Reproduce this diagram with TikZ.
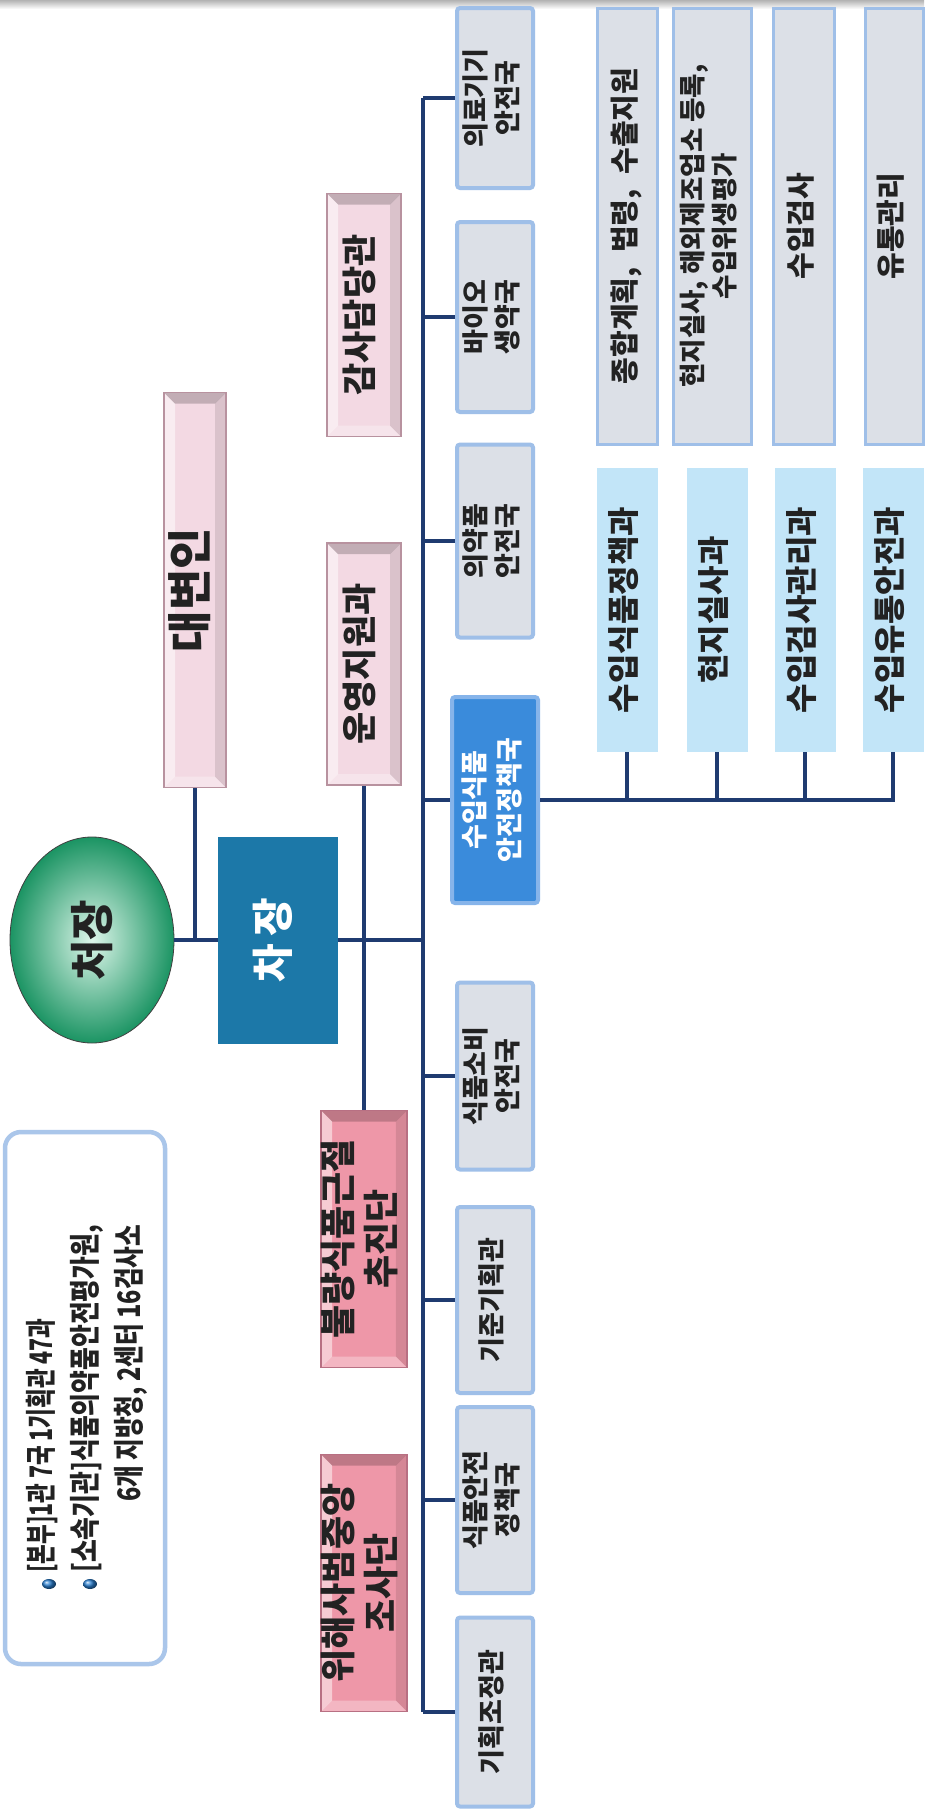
\documentclass[tikz,border=0pt]{standalone}
\usepackage{fontspec}
\usepackage{graphicx}
\setmainfont{Noto Sans CJK KR}
\usetikzlibrary{shapes.geometric}
\definecolor{lnnavy}{HTML}{1F3B70}
\definecolor{chiefgreen}{HTML}{1B9463}
\definecolor{chiefmint}{HTML}{DDF6EA}
\definecolor{deputyblue}{HTML}{1C78A8}
\definecolor{pinkfill}{HTML}{F3D9E3}
\definecolor{pinkedge}{HTML}{B8929F}
\definecolor{rosefill}{HTML}{EE97A8}
\definecolor{roseedge}{HTML}{B87083}
\definecolor{grayfill}{HTML}{DCE0E7}
\definecolor{glowblue}{HTML}{9FBFE8}
\definecolor{qblue}{HTML}{3A8BDB}
\definecolor{qglow}{HTML}{86B4EA}
\definecolor{skyfill}{HTML}{C2E5F8}
\definecolor{notebord}{HTML}{AAC6EA}
\definecolor{bulletblue}{HTML}{2A7FD0}
\definecolor{txtdark}{HTML}{222222}

% vertical (rotated) text block
\newcommand{\vtext}[1]{\rotatebox{90}{\begin{tabular}{@{}c@{}}#1\end{tabular}}}
\newcommand{\fs}[2]{\fontsize{#1}{#2}\selectfont\bfseries}

\begin{document}
\begin{tikzpicture}[x=1pt,y=-1pt,
    conn/.style={lnnavy,line width=3.5pt},
    bevel/.style={path picture={
        \coordinate (bvA) at (path picture bounding box.south west);
        \coordinate (bvB) at (path picture bounding box.north east);
        \fill[white,opacity=0.5] (bvA) -- (bvA |- bvB) -- ([shift={(11pt,-11pt)}]bvA |- bvB)
              -- ([shift={(11pt,11pt)}]bvA) -- cycle;
        \fill[white,opacity=0.3] (bvA) -- (bvA -| bvB) -- ([shift={(-11pt,11pt)}]bvA -| bvB)
              -- ([shift={(11pt,11pt)}]bvA) -- cycle;
        \fill[black,opacity=0.1] (bvB) -- (bvB |- bvA) -- ([shift={(-11pt,11pt)}]bvB |- bvA)
              -- ([shift={(-11pt,-11pt)}]bvB) -- cycle;
        \fill[black,opacity=0.2] (bvB) -- (bvA |- bvB) -- ([shift={(11pt,-11pt)}]bvA |- bvB)
              -- ([shift={(-11pt,-11pt)}]bvB) -- cycle;}},
    chiefnode/.style={ellipse,inner sep=0pt,minimum width=164pt,minimum height=206pt,
        inner color=chiefmint,outer color=chiefgreen,draw=black!75,line width=0.8pt,
        text=txtdark,font=\fs{44}{48}},
    deputynode/.style={rectangle,inner sep=0pt,fill=deputyblue,text=white,
        minimum width=120pt,minimum height=207pt,font=\fs{42}{48}},
    pinkbox/.style={rectangle,inner sep=0pt,fill=pinkfill,draw=pinkedge,line width=1.5pt,
        bevel,minimum width=74pt,text=txtdark,font=\fs{35}{40}},
    redbox/.style={rectangle,inner sep=0pt,fill=rosefill,draw=roseedge,line width=1.5pt,
        bevel,minimum width=74pt,minimum height=257pt,text=txtdark,font=\fs{36}{42}},
    graybox/.style={rectangle,inner sep=0pt,fill=grayfill,draw=glowblue,line width=4pt,
        rounded corners=3pt,minimum width=76pt,text=txtdark,font=\fs{27}{31}},
    bluebox/.style={rectangle,inner sep=0pt,fill=qblue,draw=qglow,line width=4pt,
        rounded corners=3pt,text=white,font=\fs{27}{35}},
    skybox/.style={rectangle,inner sep=0pt,fill=skyfill,minimum width=61pt,
        minimum height=284pt,text=txtdark,font=\fs{32}{36}},
    dutybox/.style={rectangle,inner sep=0pt,fill=grayfill,draw=glowblue,line width=3pt,
        minimum height=436pt,text=txtdark,font=\fs{29}{32}},
    notebox/.style={rectangle,rounded corners=16pt,fill=white,draw=notebord,line width=4.5pt,
        minimum width=160pt,minimum height=532pt},
  ]

  \useasboundingbox (0,0) rectangle (924,1820);
  \fill[white] (0,0) rectangle (924,1820);
  \shade[top color=black!30,bottom color=white] (0,0) rectangle (924,9);

  \def\bx{423}   % main bus x
  \def\gx{495}   % bureau column x

  % ---- legend ----
  \node[notebox] (note) at (85,1398) {};
  \node[anchor=south,inner sep=0pt,text=txtdark] (notetext) at (88,1573)
        {\rotatebox{90}{\fs{31}{44}\begin{tabular}{@{}l@{}}
          \scalebox{0.69}[1]{[본부]1관 7국 1기획관 47과}\\
          \scalebox{0.80}[1]{[소속기관]식품의약품안전평가원,}\\
          \multicolumn{1}{@{}r@{}}{\scalebox{0.76}[1]{6개 지방청, 2센터 16검사소}}
        \end{tabular}}};
  \foreach \x in {49,90}
    \shade[ball color=bulletblue] (\x,1584) ellipse (7 and 5);

  % ---- head ----
  \node[chiefnode] (chief) at (92,940) {\rotatebox{90}{처장}};
  \node[deputynode] (deputy) at (278,940) {\vtext{차\,장}};
  \node[pinkbox,minimum width=62pt,minimum height=395pt,font=\fs{45}{48}] (spk)
        at (195,590) {\vtext{대변인}};
  \draw[conn] (chief) -- (deputy);
  \draw[conn] (spk.south) -- (spk.south |- chief.east);

  % ---- staff offices ----
  \node[pinkbox,minimum height=243pt] (audit) at (364,315) {\vtext{감사담당관}};
  \node[pinkbox,minimum height=242pt] (ops) at (364,664) {\vtext{운영지원과}};
  \node[redbox] (fraud) at (364,1239) {\vtext{불량식품근절\\추진단}};
  \node[redbox] (crime) at (364,1583) {\vtext{위해사범중앙\\조사단}};
  \draw[conn] (ops) -- (fraud);

  % ---- bureaus on the main bus ----
  \coordinate (bus) at (\bx,940);
  \draw[conn] (deputy.east) -- (bus);
  \foreach \n/\y/\h/\t in {med/98/180/{의료기기\\안전국}, bio/317/190/{바이오\\생약국},
      drug/541/193/{의약품\\안전국}, cons/1076/187/{식품소비\\안전국},
      std/1300/186/{기준기획관}, fpol/1500/186/{식품안전\\정책국},
      plan/1712/189/{기획조정관}} {
    \node[graybox,minimum height=\h] (\n) at (\gx,\y) {\vtext{\t}};
    \draw[conn] (\n.west) -- (\n.west -| bus);
  }
  \node[bluebox,minimum width=86pt,minimum height=206pt] (qfood) at (\gx,800)
        {\vtext{수입식품\\안전정책국}};
  \draw[conn] (qfood.west) -- (qfood.west -| bus);
  \draw[conn] (med.west -| bus) -- (plan.west -| bus);

  % ---- import food divisions ----
  \foreach \n/\x/\t in {qpol/627/수입식품정책과, qsite/717/현지실사과,
      qinsp/805/수입검사관리과, qdist/893/수입유통안전과}
    \node[skybox] (\n) at (\x,610) {\vtext{\t}};
  \draw[conn] (qfood.east) -| (qdist.south);
  \foreach \n in {qpol,qsite,qinsp}
    \draw[conn] (\n.south) -- (\n.south |- qfood.east);

  % ---- duties ----
  \foreach \n/\x/\w/\t in {dgen/627.5/60/{종합계획,\hspace{0.5em}법령,\hspace{0.5em}수출지원},
      dsite/712/78/{\fs{26.5}{31}현지실사, 해외제조업소 등록,\\\fs{26.5}{31}수입위생평가},
      dinsp/804/61/{수입검사}, ddist/894.5/58/{유통관리}}
    \node[dutybox,minimum width=\w] (\n) at (\x,226) {\vtext{\t}};

\end{tikzpicture}
\end{document}
